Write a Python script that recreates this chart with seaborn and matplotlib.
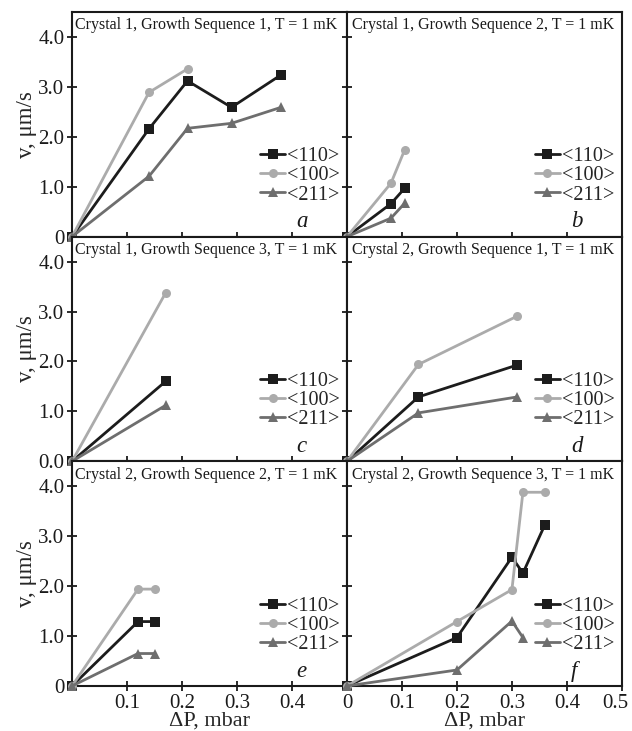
import numpy as np
import pandas as pd
import matplotlib
matplotlib.use("Agg")
import matplotlib.pyplot as plt
import matplotlib.transforms as mtransforms
import seaborn as sns
from matplotlib.lines import Line2D

sns.set_theme(style="ticks")
plt.rcParams['font.family'] = ['Liberation Serif', 'DejaVu Serif']

# directions
directions = ["<110>", "<100>", "<211>"]
colors = {"<110>": "#1c1c1c", "<100>": "#ababab", "<211>": "#6e6e6e"}
markers = {"<110>": "s", "<100>": "o", "<211>": "^"}

titles = ["Crystal 1, Growth Sequence 1, T = 1 mK",
          "Crystal 1, Growth Sequence 2, T = 1 mK",
          "Crystal 1, Growth Sequence 3, T = 1 mK",
          "Crystal 2, Growth Sequence 1, T = 1 mK",
          "Crystal 2, Growth Sequence 2, T = 1 mK",
          "Crystal 2, Growth Sequence 3, T = 1 mK"]
letters = ["a", "b", "c", "d", "e", "f"]

# panel a
dp_a_110 = [0, 0.14, 0.21, 0.29, 0.38]
v_a_110 = [0, 2.16, 3.12, 2.59, 3.24]
dp_a_100 = [0, 0.14, 0.21]
v_a_100 = [0, 2.89, 3.36]
dp_a_211 = [0, 0.14, 0.21, 0.29, 0.38]
v_a_211 = [0, 1.21, 2.17, 2.27, 2.59]
# panel b
dp_b = [0, 0.08, 0.105]
v_b_110 = [0, 0.66, 0.97]
v_b_100 = [0, 1.07, 1.74]
v_b_211 = [0, 0.37, 0.67]
# panel c
dp_c = [0, 0.17]
v_c_110 = [0, 1.60]
v_c_100 = [0, 3.37]
v_c_211 = [0, 1.12]
# panel d
dp_d = [0, 0.13, 0.31]
v_d_110 = [0, 1.29, 1.93]
v_d_100 = [0, 1.94, 2.91]
v_d_211 = [0, 0.97, 1.29]
# panel e
dp_e = [0, 0.12, 0.15]
v_e_110 = [0, 1.29, 1.29]
v_e_100 = [0, 1.94, 1.94]
v_e_211 = [0, 0.65, 0.65]
# panel f
dp_f_110 = [0, 0.2, 0.3, 0.32, 0.36]
v_f_110 = [0, 0.97, 2.58, 2.26, 3.23]
dp_f_100 = [0, 0.2, 0.3, 0.32, 0.36]
v_f_100 = [0, 1.29, 1.93, 3.88, 3.88]
dp_f_211 = [0, 0.2, 0.3, 0.32]
v_f_211 = [0, 0.32, 1.30, 0.97]

panels = [
    [(dp_a_110, v_a_110), (dp_a_100, v_a_100), (dp_a_211, v_a_211)],
    [(dp_b, v_b_110), (dp_b, v_b_100), (dp_b, v_b_211)],
    [(dp_c, v_c_110), (dp_c, v_c_100), (dp_c, v_c_211)],
    [(dp_d, v_d_110), (dp_d, v_d_100), (dp_d, v_d_211)],
    [(dp_e, v_e_110), (dp_e, v_e_100), (dp_e, v_e_211)],
    [(dp_f_110, v_f_110), (dp_f_100, v_f_100), (dp_f_211, v_f_211)],
]

ytick_left = [["0", "1.0", "2.0", "3.0", "4.0"],
              ["0.0", "1.0", "2.0", "3.0", "4.0"],
              ["0", "1.0", "2.0", "3.0", "4.0"]]

fig = plt.figure(figsize=(6.32, 7.31), dpi=100)
gs = fig.add_gridspec(3, 2, left=0.114, right=0.984, bottom=0.0616, top=0.9836,
                      wspace=0, hspace=0)

for i, series in enumerate(panels):
    r, c = divmod(i, 2)
    ax = fig.add_subplot(gs[r, c])
    rows = []
    for d, (xs, ys) in zip(directions, series):
        for x, y in zip(xs, ys):
            rows.append({"dP": x, "v": y, "dir": d})
    df = pd.DataFrame(rows)
    sns.lineplot(data=df, x="dP", y="v", hue="dir", style="dir",
                 hue_order=directions, style_order=directions,
                 palette=colors, markers=markers, dashes=False, sort=False,
                 estimator=None, lw=2, markersize=6.5, markeredgewidth=0,
                 legend=False, ax=ax, clip_on=False, zorder=3)

    ax.set_xlim(0, 0.5)
    ax.set_ylim(0, 4.5)
    ax.set_yticks([0, 1, 2, 3, 4])
    ax.set_xticks([0, 0.1, 0.2, 0.3, 0.4, 0.5])
    ax.tick_params(direction="inout", length=7, width=1.3, labelsize=15,
                   colors="#1a1a1a", pad=2)
    for s in ax.spines.values():
        s.set_linewidth(1.5)
        s.set_color("#1a1a1a")

    if c == 0:
        ax.set_yticklabels(ytick_left[r])
        ax.set_ylabel("v, μm/s", fontsize=16.5, labelpad=1)
    else:
        ax.set_yticklabels([])
        ax.set_ylabel("")
    if r == 2:
        if c == 0:
            ax.set_xticklabels(["", "0.1", "0.2", "0.3", "0.4", ""])
        else:
            ax.set_xticklabels(["0", "0.1", "0.2", "0.3", "0.4", "0.5"])
            last = ax.get_xticklabels()[-1]
            last.set_transform(last.get_transform() +
                               mtransforms.ScaledTranslation(-0.07, 0, fig.dpi_scale_trans))
        ax.set_xlabel("ΔP, mbar", fontsize=16, labelpad=-1)
    else:
        ax.set_xticklabels([])
        ax.set_xlabel("")

    ax.text(0.012 if c == 0 else 0.02, 0.94, titles[i], transform=ax.transAxes,
            fontsize=11.5, va="center", ha="left", color="#1a1a1a")
    ax.text(0.815, 0.042, letters[i], transform=ax.transAxes, fontsize=16.5,
            style="italic", va="baseline", ha="left", color="#1a1a1a")

    handles = [Line2D([], [], color=colors[d], marker=markers[d], lw=2,
                      markersize=6.5, markeredgewidth=0) for d in directions]
    ax.legend(handles, directions, loc="upper right", bbox_to_anchor=(0.995, 0.425),
              frameon=False, fontsize=14.5, handlelength=1.2, handletextpad=0.1,
              labelspacing=0.0, borderpad=0.2, borderaxespad=0.1)

fig.savefig("out.png", dpi=100)
